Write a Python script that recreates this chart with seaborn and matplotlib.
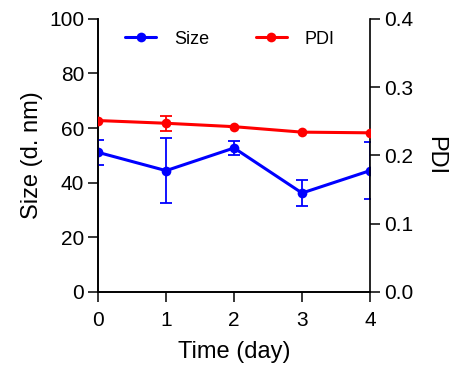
import pandas as pd
import matplotlib
matplotlib.use("Agg")
import matplotlib.pyplot as plt
import seaborn as sns
from matplotlib.lines import Line2D

# dados
dias = [0, 1, 2, 3, 4]
tamanho = [51.1, 44.4, 52.7, 36.2, 44.4]
tamanho_err = [4.7, 11.8, 2.7, 4.9, 10.4]
pdi = [0.251, 0.247, 0.242, 0.234, 0.233]
pdi_err = [0.0, 0.011, 0.0, 0.0, 0.0]

AZUL = "#0000FF"
VERMELHO = "#FF0000"

sns.set_theme(style="ticks")
plt.rcParams['font.family'] = ['Liberation Sans', 'DejaVu Sans']
plt.rcParams['text.color'] = 'black'
plt.rcParams['axes.labelcolor'] = 'black'

df = pd.DataFrame({'Dia': dias, 'Size': tamanho, 'SizeErr': tamanho_err,
                   'PDI': pdi, 'PDIErr': pdi_err})

fig = plt.figure(figsize=(4.54, 3.69), dpi=100)
ax = fig.add_axes([0.216, 0.209, 0.599, 0.740])
ax2 = ax.twinx()

# Size (eixo esquerdo)
ax.errorbar(df['Dia'], df['Size'], yerr=df['SizeErr'], fmt='none',
            ecolor=AZUL, elinewidth=1.3, capsize=4.5, capthick=1.3, zorder=3)
sns.lineplot(data=df, x='Dia', y='Size', ax=ax, color=AZUL, marker='o',
             markersize=7, markeredgewidth=0, linewidth=2.2, zorder=4)

# PDI (eixo direito)
ax2.errorbar(df['Dia'], df['PDI'], yerr=df['PDIErr'], fmt='none',
             ecolor=VERMELHO, elinewidth=1.3, capsize=4.5, capthick=1.3, zorder=3)
sns.lineplot(data=df, x='Dia', y='PDI', ax=ax2, color=VERMELHO, marker='o',
             markersize=7, markeredgewidth=0, linewidth=2.2, zorder=4)

ax.set_xlim(0, 4)
ax.set_ylim(0, 100)
ax2.set_ylim(0, 0.4)
ax.set_xticks(dias)
ax.set_yticks([0, 20, 40, 60, 80, 100])
ax2.set_yticks([0.0, 0.1, 0.2, 0.3, 0.4])
ax2.set_yticklabels(['0.0', '0.1', '0.2', '0.3', '0.4'])

ax.set_xlabel('Time (day)', fontsize=17, labelpad=8)
ax.set_ylabel('Size (d. nm)', fontsize=17, labelpad=4)
ax2.set_ylabel('PDI', fontsize=17, rotation=270, labelpad=24)

for a in (ax, ax2):
    a.tick_params(axis='both', labelsize=15, length=7, width=1.1,
                  color='black', labelcolor='black', pad=3)
    for s in a.spines.values():
        s.set_linewidth(1.2)
        s.set_color('black')
    a.spines['top'].set_visible(False)
ax.tick_params(axis='x', pad=7)
ax.spines['right'].set_visible(False)
ax2.spines['right'].set_visible(True)

handles = [
    Line2D([], [], color=AZUL, marker='o', markersize=7, linewidth=2.2, markeredgewidth=0),
    Line2D([], [], color=VERMELHO, marker='o', markersize=7, linewidth=2.2, markeredgewidth=0),
]
ax2.legend(handles, ['Size', 'PDI'], loc='center', bbox_to_anchor=(0.485, 0.925),
           ncol=2, frameon=False, fontsize=13, handlelength=1.7,
           handletextpad=1.0, columnspacing=2.6)

fig.savefig('out.png', dpi=100)
